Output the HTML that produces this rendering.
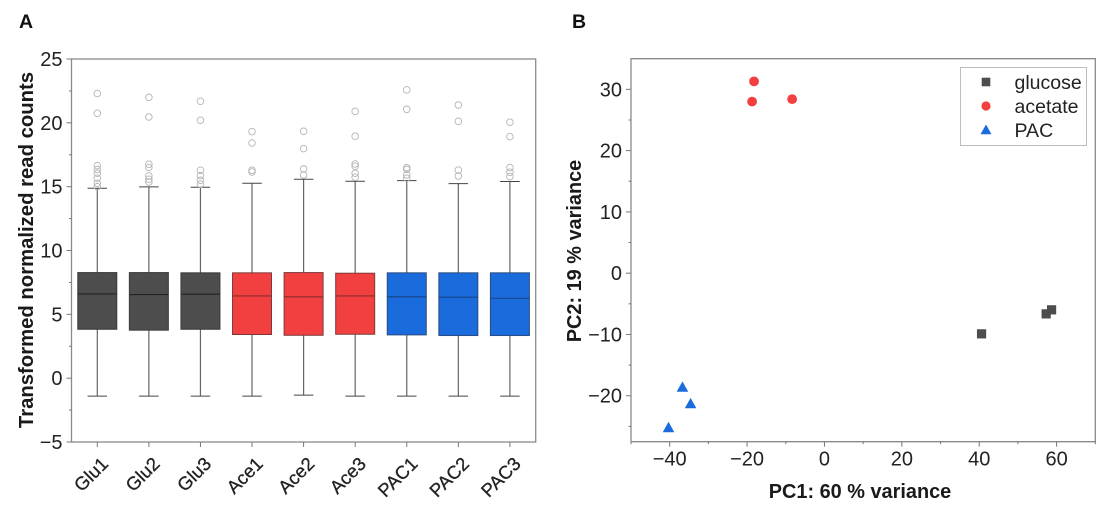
<!DOCTYPE html>
<html lang="en">
<head>
<meta charset="utf-8">
<title>Read counts boxplot and PCA</title>
<style>
html,body{margin:0;padding:0;background:#fff;width:1103px;height:510px;overflow:hidden}
svg{display:block;font-family:"Liberation Sans",Arial,sans-serif}
</style>
</head>
<body>
<svg id="fig" xmlns="http://www.w3.org/2000/svg" width="1103" height="510" viewBox="0 0 1103 510">
  <rect x="0" y="0" width="1103" height="510" fill="#fff"/>
  <text x="19" y="28" font-size="19.5" font-weight="bold" fill="#111">A</text>
  <text x="572" y="28" font-size="19.5" font-weight="bold" fill="#111">B</text>
  <g id="panelA"></g>
  <g id="panelB"></g>
</svg>
<script>
// Panel A data
const sampleNames = ["Glu1","Glu2","Glu3","Ace1","Ace2","Ace3","PAC1","PAC2","PAC3"];
const sampleGroups = ["glucose","glucose","glucose","acetate","acetate","acetate","PAC","PAC","PAC"];
const q3Values = [8.27,8.27,8.25,8.25,8.27,8.22,8.25,8.25,8.25];
const medianValues = [6.60,6.55,6.58,6.44,6.37,6.44,6.37,6.34,6.26];
const q1Values = [3.83,3.76,3.83,3.42,3.36,3.44,3.39,3.34,3.34];
const whiskerHighValues = [14.88,14.98,14.95,15.27,15.58,15.42,15.47,15.24,15.40];
const whiskerLowValues = [-1.41,-1.41,-1.41,-1.41,-1.33,-1.41,-1.41,-1.41,-1.41];
const outlierValues = [
  [22.3,20.75,16.65,16.35,16.05,15.66,15.27,15.0],
  [22.0,20.46,16.76,16.5,15.84,15.58,15.37],
  [21.69,20.2,16.29,15.87,15.5,15.2],
  [19.31,18.42,16.29,16.15],
  [19.34,17.98,16.39,15.92],
  [20.9,18.95,16.78,16.6,16.05,15.74],
  [22.58,21.06,16.49,16.36,15.92,15.66],
  [21.4,20.12,16.3,15.84],
  [20.05,18.92,16.49,16.13,15.79]
];
const boxYTicks = [-5,0,5,10,15,20,25];
const boxYMinorTicks = [-2.5,2.5,7.5,12.5,17.5,22.5];

// Panel B data
const pcaGroups = ["glucose","acetate","PAC"];
const pcaX = {glucose:[40.6,57.3,58.7], acetate:[-18.2,-18.7,-8.35], PAC:[-36.7,-34.6,-40.3]};
const pcaY = {glucose:[-9.9,-6.64,-5.98], acetate:[31.3,28.0,28.4], PAC:[-18.6,-21.3,-25.2]};
const pcaXTicks = [-40,-20,0,20,40,60];
const pcaXMinorTicks = [-50,-30,-10,10,30,50,70];
const pcaYTicks = [-20,-10,0,10,20,30];
const pcaYMinorTicks = [-25,-15,-5,5,15,25];

const groupFill = {glucose:"#4d4d4d", acetate:"#f24040", PAC:"#1a6cdd"};
const groupEdge = {glucose:"#3a3a3a", acetate:"#7a3a3a", PAC:"#2a4a80"};
const groupMedian = {glucose:"#222222", acetate:"#8a2b2b", PAC:"#154487"};

const AXIS = "#8a8a8a", TICKC = "#777", TXT = "#222";
const NS = "http://www.w3.org/2000/svg";
function mk(parent, tag, attrs, txt){
  const e = document.createElementNS(NS, tag);
  for (const k in attrs) e.setAttribute(k, attrs[k]);
  if (txt !== undefined) e.textContent = txt;
  parent.appendChild(e);
  return e;
}
function lbl(v){ return String(v).replace("-", "\u2212"); }

// ---------- Panel A ----------
const A = {l:71.5, r:535.7, t:59, b:442};
const ax = i => A.l + (i + 0.5) * (A.r - A.l) / sampleNames.length;
const ay = v => A.b - (v + 5) * (A.b - A.t) / 30;
const gA = document.getElementById("panelA");
const BW = 39, CW = 19.5;

const frameA = mk(gA, "rect", {x:A.l, y:A.t, width:A.r-A.l, height:A.b-A.t, fill:"none", stroke:AXIS, "stroke-width":1.3});



boxYTicks.forEach(v => {
  const t = mk(gA, "line", {x1:A.l-5, x2:A.l, y1:ay(v), y2:ay(v), stroke:TICKC, "stroke-width":1});
  
  
  const l = mk(gA, "text", {x:A.l-9, y:ay(v)+7, "font-size":20, "text-anchor":"end", fill:TXT}, lbl(v));
  
  
});
boxYMinorTicks.forEach(v => {
  const t = mk(gA, "line", {x1:A.l-2.5, x2:A.l, y1:ay(v), y2:ay(v), stroke:TICKC, "stroke-width":1});
  
  
});

sampleNames.forEach((name, i) => {
  const x = ax(i), g = sampleGroups[i];
  const box = mk(gA, "g", {});
  
  
  mk(box, "line", {x1:x, x2:x, y1:ay(whiskerHighValues[i]), y2:ay(q3Values[i]), stroke:"#666", "stroke-width":1.2});
  mk(box, "line", {x1:x, x2:x, y1:ay(q1Values[i]), y2:ay(whiskerLowValues[i]), stroke:"#666", "stroke-width":1.2});
  mk(box, "line", {x1:x-CW/2, x2:x+CW/2, y1:ay(whiskerHighValues[i]), y2:ay(whiskerHighValues[i]), stroke:"#444", "stroke-width":1});
  mk(box, "line", {x1:x-CW/2, x2:x+CW/2, y1:ay(whiskerLowValues[i]), y2:ay(whiskerLowValues[i]), stroke:"#444", "stroke-width":1});
  mk(box, "rect", {x:x-BW/2, y:ay(q3Values[i]), width:BW, height:ay(q1Values[i])-ay(q3Values[i]), fill:groupFill[g], stroke:groupEdge[g], "stroke-width":1});
  mk(box, "line", {x1:x-BW/2, x2:x+BW/2, y1:ay(medianValues[i]), y2:ay(medianValues[i]), stroke:groupMedian[g], "stroke-width":1.1});
  outlierValues[i].forEach(v => {
    const c = mk(box, "circle", {cx:x, cy:ay(v), r:3.3, fill:"none", stroke:"#b5b5b5", "stroke-width":0.9});
    
    
  });
  const t = mk(gA, "line", {x1:x, x2:x, y1:A.b, y2:A.b+5, stroke:TICKC, "stroke-width":1});
  
  
  const lx = x + 12, ly = A.b + 23;
  const l = mk(gA, "text", {x:lx, y:ly, "font-size":18.5, "text-anchor":"end", fill:TXT, stroke:TXT, "stroke-width":0.3, transform:"rotate(-45 "+lx+" "+ly+")"}, name);
  
  
});

const yTitleA = mk(gA, "text", {x:0, y:0, "font-size":20.3, "font-weight":"bold", "text-anchor":"middle", fill:"#1a1a1a", transform:"translate(33 250) rotate(-90)"}, "Transformed normalized read counts");



// ---------- Panel B ----------
const B = {l:631, r:1095.3, t:58.7, b:441.7};
const bx = v => B.l + (v + 50) * (B.r - B.l) / 120;
const by = v => B.b - (v + 27.5) * (B.b - B.t) / 62.5;
const gB = document.getElementById("panelB");

const frameB = mk(gB, "path", {d:"M"+B.l+" "+B.b+"V"+B.t+"H"+B.r+"V"+B.b+"H"+B.l, fill:"none", stroke:AXIS, "stroke-width":1.3});



pcaYTicks.forEach(v => {
  const t = mk(gB, "line", {x1:B.l-5, x2:B.l, y1:by(v), y2:by(v), stroke:TICKC, "stroke-width":1});
  
  
  const l = mk(gB, "text", {x:B.l-9, y:by(v)+7, "font-size":20, "text-anchor":"end", fill:TXT}, lbl(v));
  
  
});
pcaYMinorTicks.forEach(v => {
  const t = mk(gB, "line", {x1:B.l-2.5, x2:B.l, y1:by(v), y2:by(v), stroke:TICKC, "stroke-width":1});
  
  
});
pcaXTicks.forEach(v => {
  const t = mk(gB, "line", {x1:bx(v), x2:bx(v), y1:B.b, y2:B.b+5, stroke:TICKC, "stroke-width":1});
  
  
  const l = mk(gB, "text", {x:bx(v), y:B.b+24, "font-size":20, "text-anchor":"middle", fill:TXT}, lbl(v));
  
  
});
pcaXMinorTicks.forEach(v => {
  const t = mk(gB, "line", {x1:bx(v), x2:bx(v), y1:B.b, y2:B.b+2.5, stroke:TICKC, "stroke-width":1});
  
  
});

function marker(parent, group, x, y, s){
  if (group === "glucose") return mk(parent, "rect", {x:x-s, y:y-s, width:2*s, height:2*s, fill:groupFill[group]});
  if (group === "acetate") return mk(parent, "circle", {cx:x, cy:y, r:s+0.3, fill:groupFill[group]});
  const h = s + 0.6;
  return mk(parent, "polygon", {points:[x,y-h-0.6, x+h+0.6,y+h-0.6, x-h-0.6,y+h-0.6].join(" "), fill:groupFill[group]});
}
pcaGroups.forEach(g => {
  pcaX[g].forEach((v, i) => {
    const m = marker(gB, g, bx(v), by(pcaY[g][i]), 4.6);
    
    
  });
});

const xTitleB = mk(gB, "text", {x:860, y:498, "font-size":19.9, "font-weight":"bold", "text-anchor":"middle", fill:"#1a1a1a"}, "PC1: 60 % variance");


const yTitleB = mk(gB, "text", {x:0, y:0, "font-size":19.9, "font-weight":"bold", "text-anchor":"middle", fill:"#1a1a1a", transform:"translate(581 251) rotate(-90)"}, "PC2: 19 % variance");



// Legend
const legend = mk(gB, "g", {});


mk(legend, "rect", {x:960.5, y:67.5, width:126, height:78, fill:"#fff", stroke:"#bdbdbd", "stroke-width":1});
const legendRowY = [82, 106, 130];
pcaGroups.forEach((g, i) => {
  const entry = mk(legend, "g", {});
  
  
  marker(entry, g, 986, legendRowY[i], 4.3);
  mk(entry, "text", {x:1014.5, y:legendRowY[i]+7, "font-size":19.5, fill:TXT}, g);
});
</script>
</body>
</html>
